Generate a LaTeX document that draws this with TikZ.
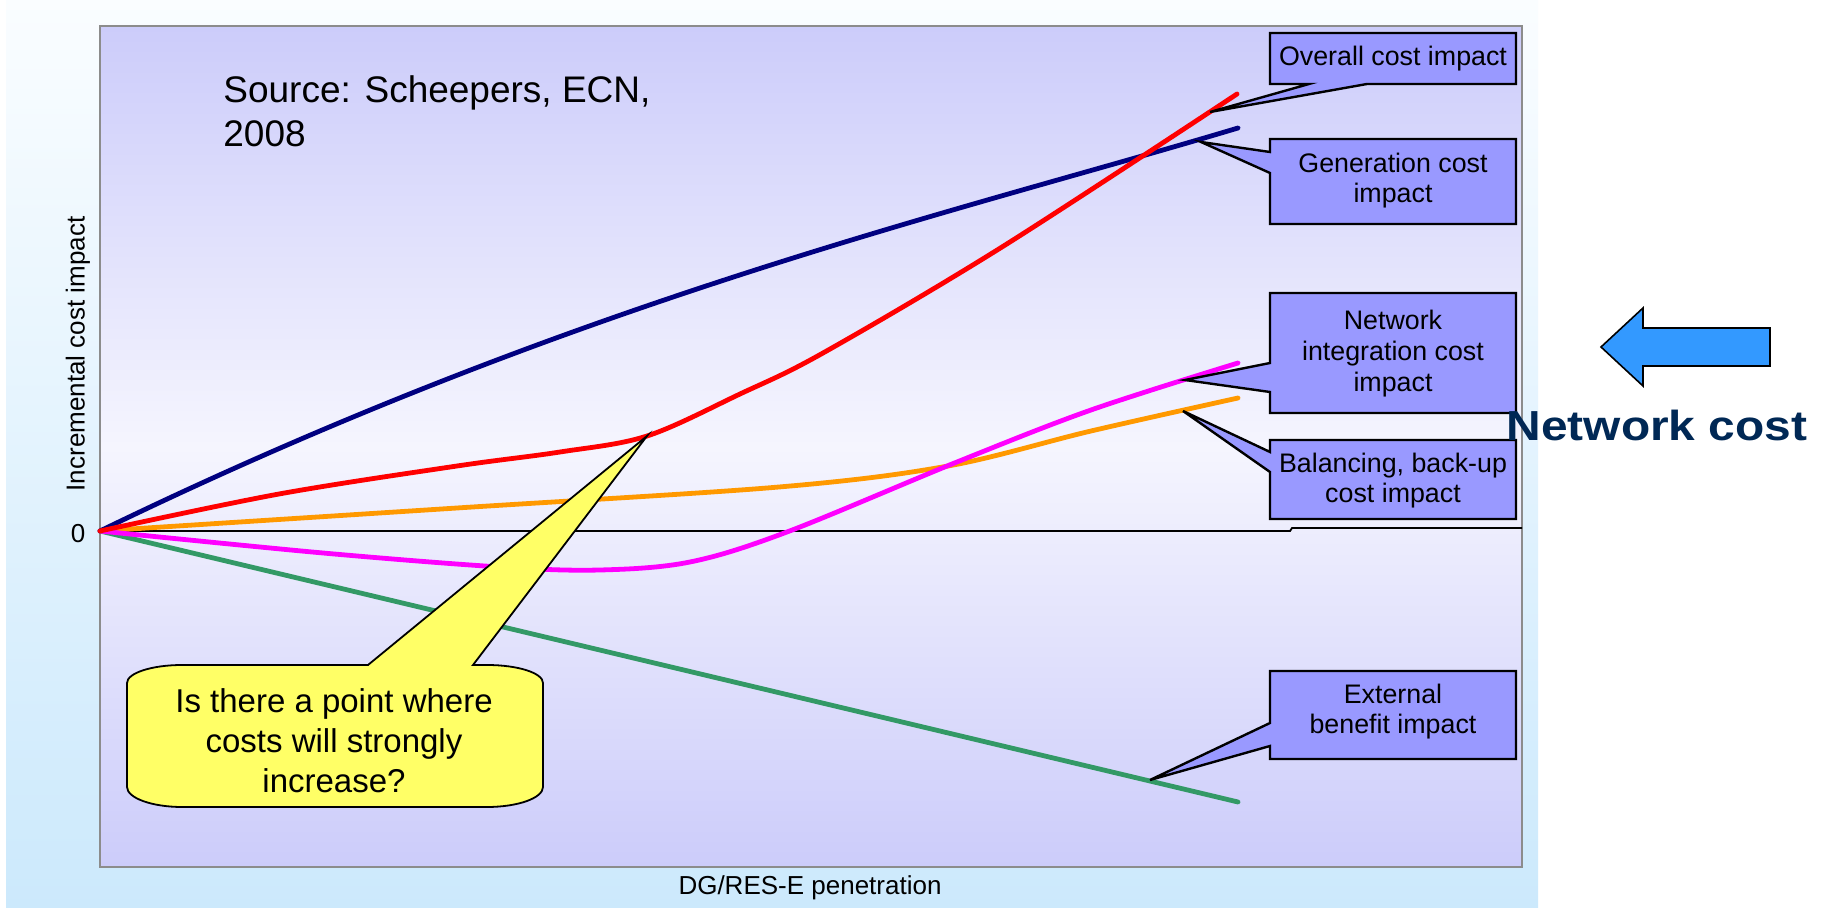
\documentclass[tikz,border=0pt]{standalone}
\usepackage{fontspec}
\setmainfont{Liberation Sans}
\usetikzlibrary{calc}
\definecolor{panelTop}{RGB}{250,253,255}
\definecolor{panelBot}{RGB}{204,233,252}
\definecolor{plotEdge}{RGB}{204,204,250}
\definecolor{plotMid}{RGB}{245,245,254}
\definecolor{navyc}{RGB}{0,0,128}
\definecolor{redc}{RGB}{255,0,0}
\definecolor{orangec}{RGB}{255,153,0}
\definecolor{magentac}{RGB}{255,0,255}
\definecolor{greenc}{RGB}{51,153,102}
\definecolor{boxc}{RGB}{153,153,255}
\definecolor{yellowc}{RGB}{255,255,102}
\definecolor{arrowc}{RGB}{51,153,255}
\definecolor{netc}{RGB}{0,40,85}
\definecolor{borderc}{RGB}{140,140,140}
\begin{document}
\begin{tikzpicture}[x=0.5pt,y=-0.5pt,
  curve/.style={line width=2.4pt,line join=round,line cap=round},
  callbox/.style={draw=black,fill=boxc,line width=1.2pt,line join=miter},
  boxtext/.style={inner sep=0pt,align=center,font=\fontsize{13.4pt}{15pt}\selectfont},
  axislabel/.style={inner sep=0pt,font=\fontsize{13pt}{15pt}\selectfont},
  bubble/.style={draw=black,fill=yellowc,line width=0.9pt,line join=miter},
  arrowshape/.style={draw=black,fill=arrowc,line width=0.8pt,line join=miter}]
\useasboundingbox (0,0) rectangle (1821,908);
\fill[white] (0,0) rectangle (1821,908);
% outer panel
\shade[top color=panelTop,bottom color=panelBot] (6,0) rectangle (1538,908);
% plot area
\shade[top color=plotEdge,bottom color=plotEdge,middle color=plotMid] (100,26) rectangle (1522,867);
\draw[borderc,line width=1pt] (100,26) rectangle (1522,867);
% zero line
\draw[black,line width=0.9pt] (100,531) -- (1290,531) -- (1292,528) -- (1522,528);
% curves
\draw[curve,greenc] (100,531) -- (1238,802);
\draw[curve,orangec] plot[smooth,tension=0.55] coordinates {(100,531) (457,508) (779,487) (948,466) (1091,431) (1238,398)};
\draw[curve,magentac] plot[smooth,tension=0.55] coordinates {(100,531) (323,553) (500,567) (600,570) (690,562) (787,532) (957,462) (1091,410) (1238,363)};
\draw[curve,navyc] (100,531) .. controls (580,298) and (958,212) .. (1238,128);
\draw[curve,redc] plot[smooth,tension=0.55] coordinates {(100,531) (279,494) (457,466) (560,452) (647,436) (740,394) (823,353) (1002,247) (1237,94)};
% pointer tips
\coordinate (tipOv) at (1210,112);
\coordinate (tipGen) at (1201,142);
\coordinate (tipNet) at (1185,380);
\coordinate (tipBal) at (1183,411);
\coordinate (tipExt) at (1150,780);
\coordinate (tipQ) at (647,436);
% callout boxes
\draw[callbox] (1270,33) -- (1516,33) -- (1516,84) -- (1367,84) -- (tipOv) -- (1309,84) -- (1270,84) -- cycle;
\node[boxtext] (ov) at (1393,59) {Overall cost impact};
\draw[callbox] (1270,139) -- (1516,139) -- (1516,224) -- (1270,224) -- (1270,173) -- (tipGen) -- (1270,152) -- cycle;
\node[boxtext] (gen) at (1393,181) {Generation cost\\impact};
\draw[callbox] (1270,293) -- (1516,293) -- (1516,413) -- (1270,413) -- (1270,392) -- (tipNet) -- (1270,363) -- cycle;
\node[boxtext,font=\fontsize{13.4pt}{15.5pt}\selectfont] (net) at (1393,354) {Network\\integration cost\\impact};
\draw[callbox] (1270,440) -- (1516,440) -- (1516,519) -- (1270,519) -- (1270,472) -- (tipBal) -- (1270,452) -- cycle;
\node[boxtext] (bal) at (1393,481) {Balancing, back-up\\cost impact};
\draw[callbox] (1270,671) -- (1516,671) -- (1516,759) -- (1270,759) -- (1270,746) -- (tipExt) -- (1270,723) -- cycle;
\node[boxtext] (ext) at (1393,712) {External\\benefit impact};
% yellow bubble
\draw[bubble] (182,665) -- (368,665) -- (tipQ) -- (473,665) -- (487,665)
  .. controls (518,665) and (543,673) .. (543,683) -- (543,787)
  .. controls (543,798) and (518,807) .. (487,807) -- (182,807)
  .. controls (152,807) and (127,798) .. (127,787) -- (127,683)
  .. controls (127,673) and (152,665) .. (182,665) -- cycle;
\node[inner sep=0pt,align=center,font=\fontsize{16.5pt}{20pt}\selectfont] (q) at (334,741) {Is there a point where\\costs will strongly\\increase?};
% source
\node[inner sep=0pt,align=left,anchor=north west,font=\fontsize{18.5pt}{22pt}\selectfont] (src) at (223,75) {Source: Scheepers, ECN,\\2008};
% axis labels
\node[axislabel,rotate=90] (yl) at (78,354) {Incremental cost impact};
\node[axislabel] (zero) at (78,534) {0};
\node[axislabel] (xl) at (810,888) {DG/RES-E penetration};
% network cost arrow and label
\draw[arrowshape] (1601,347) -- (1643,308) -- (1643,328) -- (1770,328) -- (1770,366) -- (1643,366) -- (1643,386) -- cycle;
\node[inner sep=0pt,text=netc,font=\fontsize{21pt}{24pt}\selectfont\bfseries] (nc) at (1657,425) {\scalebox{1.14}[1]{Network cost}};
\end{tikzpicture}
\end{document}
